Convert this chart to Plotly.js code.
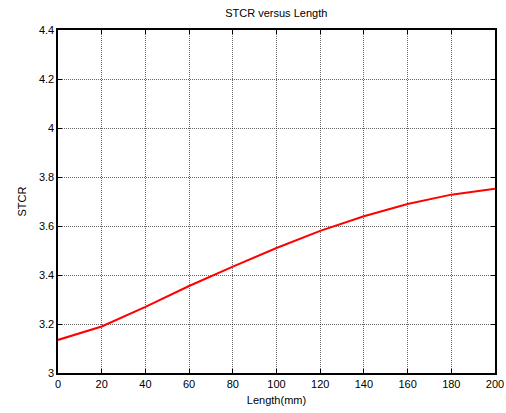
<!DOCTYPE html>
<html>
<head>
<meta charset="utf-8">
<script src="https://cdn.plot.ly/plotly-3.0.1.min.js"></script>
<style>
  html, body { margin: 0; padding: 0; background: #fff; }
  #chart { width: 506px; height: 413px; }
</style>
</head>
<body>
<div id="chart"></div>
<script>
// Length in mm and the corresponding STCR values
const lengthMm = [0, 20, 40, 60, 80, 100, 120, 140, 160, 180, 200];
const stcr = [3.135, 3.19, 3.27, 3.355, 3.434, 3.51, 3.58, 3.64, 3.69, 3.728, 3.752];

const xTicks = [0, 20, 40, 60, 80, 100, 120, 140, 160, 180, 200];
const yTicks = [3, 3.2, 3.4, 3.6, 3.8, 4, 4.2, 4.4];
const yTickText = ['3', '3.2', '3.4', '3.6', '3.8', '4', '4.2', '4.4'];

const font = { family: 'Liberation Sans, Arial, sans-serif', size: 11, color: '#000' };

const axisCommon = {
  showline: true,
  linecolor: '#000',
  linewidth: 1.6,
  mirror: 'ticks',
  ticks: 'inside',
  ticklen: 4,
  tickcolor: '#000',
  showgrid: true,
  gridcolor: 'rgba(0,0,0,0.6)',
  griddash: '1px,1px',
  gridwidth: 1,
  zeroline: false,
  tickfont: font
};

Plotly.newPlot('chart', [{
  x: lengthMm,
  y: stcr,
  type: 'scatter',
  mode: 'lines',
  line: { color: '#ff0000', width: 2 }
}], {
  width: 506,
  height: 413,
  margin: { l: 58, r: 11, t: 30, b: 40 },
  paper_bgcolor: '#fff',
  plot_bgcolor: '#fff',
  showlegend: false,
  font: font,
  title: { text: 'STCR versus Length', font: font, x: 0.546, xanchor: 'center', y: 0.967, yanchor: 'middle' },
  xaxis: Object.assign({}, axisCommon, {
    range: [0, 200],
    tickvals: xTicks,
    ticktext: xTicks.map(String),
    title: { text: 'Length(mm)', font: font, standoff: 7 }
  }),
  yaxis: Object.assign({}, axisCommon, {
    range: [3, 4.4],
    tickvals: yTicks,
    ticktext: yTickText,
    title: { text: 'STCR', font: font, standoff: 10 }
  })
}, { displayModeBar: false, staticPlot: true });
</script>
</body>
</html>
